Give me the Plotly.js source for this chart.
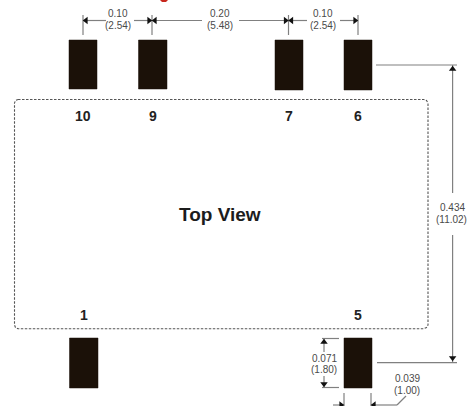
<!DOCTYPE html>
<html><head><meta charset="utf-8">
<script src="https://cdn.plot.ly/plotly-3.0.1.min.js"></script>
<style>html,body{margin:0;padding:0;background:#fff}#c{width:469px;height:406px}</style></head>
<body><div id="c"></div>
<script>
// All quantities are in picture units.
const pinLabels = ['10','9','7','6','1','5'];
const pinLabelX = [83,152.5,289,358,84,358];
const pinLabelY = [116,116,116,116,315,315];
const padLeft   = [69,138.5,275,344,69.5,344];
const padRight  = [97,167,303,372,98,372];
const padTop    = [40,40,40,40,338,338];
const padBottom = [89,89,90,90,388,388];
const outlineX = [18,424,426.5,428,428,426.5,424,18,15.5,14.5,14.5,15.5,18];
const outlineY = [99.5,99.5,100.5,103,325,327.5,328.7,328.7,327.5,325,103,100.5,99.5];
const dimLines = [
  [[83,83],[15,35]],[[152,152],[15,35]],[[288.5,288.5],[15,35]],[[358,358],[15,35]],
  [[83,106],[20.5,20.5]],[[134,152],[20.5,20.5]],[[152,202],[20.5,20.5]],[[239,288.5],[20.5,20.5]],
  [[288.5,307],[20.5,20.5]],[[340,358],[20.5,20.5]],
  [[376,457],[65,65]],[[377,457],[362.7,362.7]],
  [[452.6,452.6],[65,193]],[[452.6,452.6],[235,362]],
  [[322,339],[338.5,338.5]],[[322,339],[387.5,387.5]],
  [[324,324],[338.5,352]],[[324,324],[376,387.5]],
  [[344,344],[393,406]],[[371,371],[393,406]],
  [[333,344],[405,405]],[[371,397],[405,405]],[[397,406],[405,396]]
];
const arrowX = [86,149,155,285.5,291.5,355,452.6,452.6,324,324,341,374];
const arrowY = [20.5,20.5,20.5,20.5,20.5,20.5,69,358,342,384,405,405];
const arrowSym = ['triangle-left','triangle-right','triangle-left','triangle-right','triangle-left','triangle-right','triangle-up','triangle-down','triangle-up','triangle-down','triangle-right','triangle-left'];
const dimTexts = ['0.10','(2.54)','0.20','(5.48)','0.10','(2.54)','0.434','(11.02)','0.071','(1.80)','0.039','(1.00)'];
const dimTextX = [118,118,220,220,323,323,452,451,324,324,407,407];
const dimTextY = [13.5,25.5,13.5,25.5,13.5,25.5,207,219,358,369,378,390];
const titleText = 'Top View';
const redX = [160,168,166,162,160];
const redY = [0,0,2,2,0];

const traces = [];
dimLines.forEach(l => traces.push({x:l[0],y:l[1],mode:'lines',line:{color:'#808080',width:1.2},hoverinfo:'skip'}));
traces.push({x:outlineX,y:outlineY,mode:'lines',line:{color:'#555',width:1.1,dash:'2.5px,1.5px'},hoverinfo:'skip'});
padLeft.forEach((_,i)=>traces.push({
  x:[padLeft[i],padRight[i],padRight[i],padLeft[i],padLeft[i]],
  y:[padTop[i],padTop[i],padBottom[i],padBottom[i],padTop[i]],
  mode:'lines',fill:'toself',fillcolor:'#1b1108',line:{color:'#1b1108',width:0.5},hoverinfo:'skip'}));
traces.push({x:arrowX,y:arrowY,mode:'markers',marker:{symbol:arrowSym,size:6.5,color:'#111'},hoverinfo:'skip'});
traces.push({x:redX,y:redY,mode:'lines',fill:'toself',fillcolor:'#c8281e',line:{color:'#c8281e',width:0},hoverinfo:'skip'});

const F='"Liberation Sans",Arial,sans-serif';
const ann=[];
pinLabels.forEach((t,i)=>ann.push({x:pinLabelX[i],y:pinLabelY[i],text:t,showarrow:false,xanchor:'center',yanchor:'middle',font:{family:F,size:14,color:'#222',weight:700}}));
dimTexts.forEach((t,i)=>ann.push({x:dimTextX[i],y:dimTextY[i],text:t,showarrow:false,xanchor:'center',yanchor:'middle',font:{family:F,size:10,color:'#4a4a4a'}}));
ann.push({x:220,y:214,text:titleText,showarrow:false,xanchor:'center',yanchor:'middle',font:{family:F,size:19,color:'#1c1c1c',weight:700}});

Plotly.newPlot('c',traces,{
  width:469,height:406,margin:{l:0,r:0,t:0,b:0},showlegend:false,
  paper_bgcolor:'#fff',plot_bgcolor:'#fff',
  xaxis:{range:[0,469],visible:false,fixedrange:true},
  yaxis:{range:[406,0],visible:false,fixedrange:true},
  annotations:ann
},{displayModeBar:false,staticPlot:true});
</script></body></html>
